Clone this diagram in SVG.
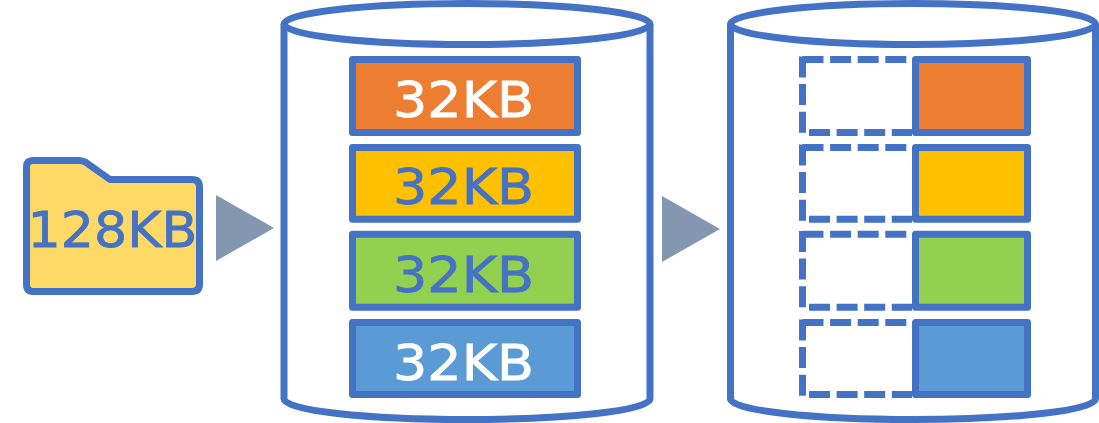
<svg xmlns="http://www.w3.org/2000/svg" width="1099" height="423" viewBox="0 0 1099 423">
<style>
.s{stroke:#4472C4;stroke-width:7;stroke-linejoin:round;fill:none}
.d{stroke:#4472C4;stroke-width:7;fill:none;stroke-dasharray:21 6.6}
.t{font-family:"DejaVu Sans",sans-serif;font-size:50px;text-anchor:middle;stroke-width:.8;paint-order:stroke}
.w{fill:#fff;stroke:#fff}.b{fill:#4472C4;stroke:#4472C4}
.a{fill:#8497B0}
</style>
<rect width="1099" height="423" fill="#fff"/>
<g id="folder">
<path class="s" style="fill:#FFD966" d="M33 160.500H79Q83 160.500 86 162.500L110 179.500H192Q199.500 179.500 199.500 187V284Q199.500 291.500 192 291.500H33Q26.500 291.500 26.500 284V167Q26.500 160.500 33 160.500Z"/>
<text class="t b" x="112.500" y="247" textLength="170" lengthAdjust="spacingAndGlyphs">128KB</text>
</g>
<g id="connectors">
<polygon class="a" points="216,195 274,228 216,261"/>
<polygon class="a" points="662,196 720,229 662,262"/>
</g>
<g id="cylinder-left">
<path class="s" d="M284 24V399A183 20.500 0 0 0 650 399V24"/>
<ellipse class="s" cx="467" cy="24" rx="183" ry="20.500"/>
</g>
<g id="cylinder-right">
<path class="s" d="M730.500 24V399A182.500 20.500 0 0 0 1095.500 399V24"/>
<ellipse class="s" cx="913" cy="24" rx="182.500" ry="20.500"/>
</g>
<g id="block-1">
<rect class="s" style="fill:#ED7D31" x="352.500" y="59.500" width="225" height="73"/>
<text class="t w" x="463.500" y="117" textLength="141" lengthAdjust="spacingAndGlyphs">32KB</text>
</g>
<g id="block-2">
<rect class="s" style="fill:#FFC000" x="352.500" y="147.500" width="225" height="71.700"/>
<text class="t b" x="463.500" y="203.500" textLength="141" lengthAdjust="spacingAndGlyphs">32KB</text>
</g>
<g id="block-3">
<rect class="s" style="fill:#92D050" x="352.500" y="234.200" width="225" height="73"/>
<text class="t b" x="463.500" y="292" textLength="141" lengthAdjust="spacingAndGlyphs">32KB</text>
</g>
<g id="block-4">
<rect class="s" style="fill:#5B9BD5" x="352.500" y="322.500" width="225" height="71.900"/>
<text class="t w" x="463.500" y="379.500" textLength="141" lengthAdjust="spacingAndGlyphs">32KB</text>
</g>
<g id="slot-1">
<path class="d" d="M802.500 59.500H912M802.500 56.500V136M809 132.500H912"/>
<rect class="s" style="fill:#ED7D31" x="915.500" y="59.500" width="112" height="73"/>
</g>
<g id="slot-2">
<path class="d" d="M802.500 147.500H912M802.500 144.500V223M809 219.200H912"/>
<rect class="s" style="fill:#FFC000" x="915.500" y="147.500" width="112" height="71.700"/>
</g>
<g id="slot-3">
<path class="d" d="M802.500 234.200H912M802.500 231V310.500M809 307.200H912"/>
<rect class="s" style="fill:#92D050" x="915.500" y="234.200" width="112" height="73"/>
</g>
<g id="slot-4">
<path class="d" d="M802.500 322.500H912M802.500 319.500V398M809 394.400H912"/>
<rect class="s" style="fill:#5B9BD5" x="915.500" y="322.500" width="112" height="71.900"/>
</g>
</svg>
